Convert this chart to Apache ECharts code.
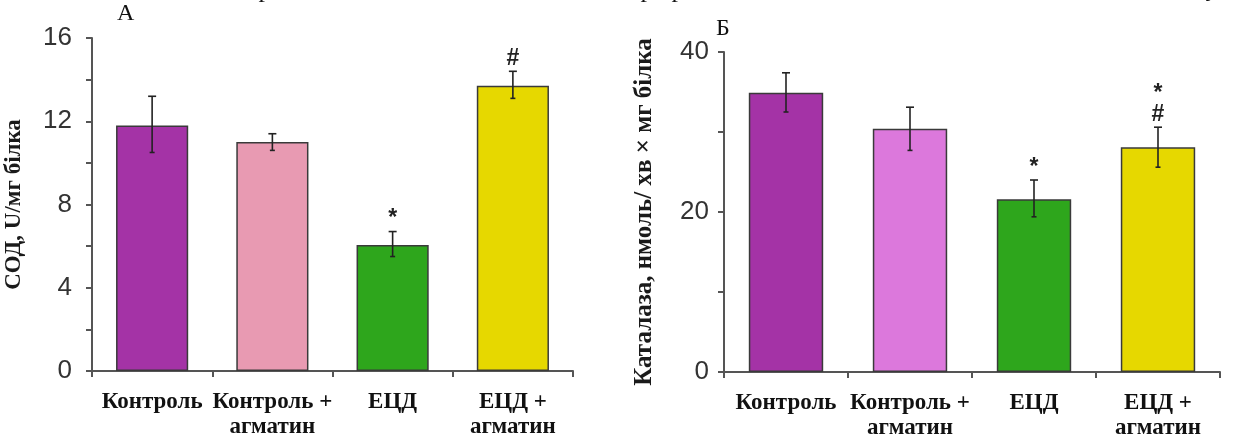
<!DOCTYPE html>
<html>
<head>
<meta charset="utf-8">
<script src="https://cdn.jsdelivr.net/npm/echarts@6/dist/echarts.min.js"></script>
<style>
html,body{margin:0;padding:0;background:#fff;}
#chart{width:1250px;height:437px;}
</style>
</head>
<body>
<div id="chart"></div>
<script>
// ---- data ----
const categories = ['Контроль', 'Контроль +\nагматин', 'ЕЦД', 'ЕЦД +\nагматин'];
const sodMean = [11.8, 11.0, 6.05, 13.7];
const sodLow = [10.5, 10.6, 5.5, 13.1];
const sodHigh = [13.2, 11.4, 6.7, 14.4];
const sodMarks = ['', '', '*', '#'];
const catMean = [34.9, 30.4, 21.6, 28.1];
const catLow = [32.5, 27.7, 19.4, 25.6];
const catHigh = [37.4, 33.1, 24.0, 30.6];
const catMarks = ['', '', '*', '*\n#'];
const sodTicks = [0, 4, 8, 12, 16];
const catTicks = [0, 20, 40];
const sodColors = ['#a433a6', '#e89ab2', '#2ea61c', '#e6d800'];
const catColors = ['#a433a6', '#dc78dc', '#2ea61c', '#e6d800'];

const serif = '"Liberation Serif", "DejaVu Serif", serif';
const sans = '"Liberation Sans", Arial, sans-serif';
const axisCol = '#555';

function xAxisCfg(gridIndex) {
  return {
    type: 'category', gridIndex, data: categories,
    axisLine: {lineStyle: {color: axisCol, width: 2}},
    axisTick: {show: true, length: 6, lineStyle: {color: axisCol, width: 2}},
    axisLabel: {interval: 0, margin: 19, color: '#111', fontFamily: serif, fontWeight: 'bold', fontSize: 23, lineHeight: 25}
  };
}
function yAxisCfg(gridIndex, max, interval, ticks, name, margin, gap, nameSize) {
  return {
    type: 'value', gridIndex, min: 0, max, interval,
    name, nameLocation: 'middle', nameGap: gap,
    nameTextStyle: {fontFamily: serif, fontWeight: 'bold', fontSize: nameSize, color: '#1a1a1a'},
    axisLine: {show: true, lineStyle: {color: axisCol, width: 2}},
    axisTick: {show: true, length: 6, lineStyle: {color: axisCol, width: 2}},
    splitLine: {show: false},
    axisLabel: {margin, color: '#333', fontFamily: sans, fontSize: 26,
      formatter: v => ticks.includes(v) ? String(v) : ''}
  };
}
function barSeries(idx, means, colors) {
  return {
    type: 'bar', xAxisIndex: idx, yAxisIndex: idx, barCategoryGap: '40%',
    data: means.map((v, i) => ({value: v, itemStyle: {color: colors[i]}})),
    itemStyle: {borderColor: '#3a3a3a', borderWidth: 1.5},
    silent: true
  };
}
function errSeries(idx, low, high, marks) {
  return {
    type: 'custom', xAxisIndex: idx, yAxisIndex: idx, silent: true, z: 10,
    data: low.map((l, i) => [i, l, high[i]]),
    renderItem: function (params, api) {
      const i = api.value(0);
      const top = api.coord([i, api.value(2)]);
      const bot = api.coord([i, api.value(1)]);
      const x = top[0];
      const st = {stroke: '#222', lineWidth: 1.6};
      const children = [
        {type: 'line', shape: {x1: x, y1: top[1], x2: x, y2: bot[1]}, style: st},
        {type: 'line', shape: {x1: x - 4, y1: top[1], x2: x + 4, y2: top[1]}, style: st},
        {type: 'line', shape: {x1: x - 2.5, y1: bot[1], x2: x + 2.5, y2: bot[1]}, style: st}
      ];
      const m = marks[i];
      if (m) {
        children.push({type: 'text', x: x, y: top[1] - 2,
          style: {text: m, align: 'center', verticalAlign: 'bottom', fill: '#222',
            font: 'bold 23px ' + sans, lineHeight: 21}});
      }
      return {type: 'group', children};
    }
  };
}

const chart = echarts.init(document.getElementById('chart'), null, {renderer: 'canvas'});
chart.setOption({
  animation: false,
  backgroundColor: '#fff',
  grid: [
    {left: 92, right: 677, top: 38, bottom: 66, containLabel: false, outerBoundsMode: 'none'},
    {left: 724, right: 30, top: 52, bottom: 65, containLabel: false, outerBoundsMode: 'none'}
  ],
  xAxis: [xAxisCfg(0), xAxisCfg(1)],
  yAxis: [
    yAxisCfg(0, 16, 2, sodTicks, 'СОД, U/мг білка', 20, 66, 23),
    yAxisCfg(1, 40, 10, catTicks, 'Каталаза, нмоль/ хв × мг білка', 15, 67, 25)
  ],
  series: [
    barSeries(0, sodMean, sodColors),
    errSeries(0, sodLow, sodHigh, sodMarks),
    barSeries(1, catMean, catColors),
    errSeries(1, catLow, catHigh, catMarks)
  ],
  graphic: [
    {type: 'text', left: 117, top: 2, style: {text: 'А', font: '24px ' + serif, fill: '#111'}},
    {type: 'text', left: 716, top: 17, style: {text: 'Б', font: '24px ' + serif, fill: '#111'}},
    {type: 'text', x: 265, y: -10, style: {text: 'р', font: '26px ' + serif, fill: '#111', align: 'center', verticalAlign: 'middle'}},
    {type: 'text', x: 647, y: -10, style: {text: 'р', font: '26px ' + serif, fill: '#111', align: 'center', verticalAlign: 'middle'}},
    {type: 'text', x: 678, y: -10, style: {text: 'р', font: '26px ' + serif, fill: '#111', align: 'center', verticalAlign: 'middle'}},
    {type: 'text', x: 1212, y: -11, style: {text: 'у', font: '26px ' + serif, fill: '#111', align: 'center', verticalAlign: 'middle'}}
  ]
});
</script>
</body>
</html>
